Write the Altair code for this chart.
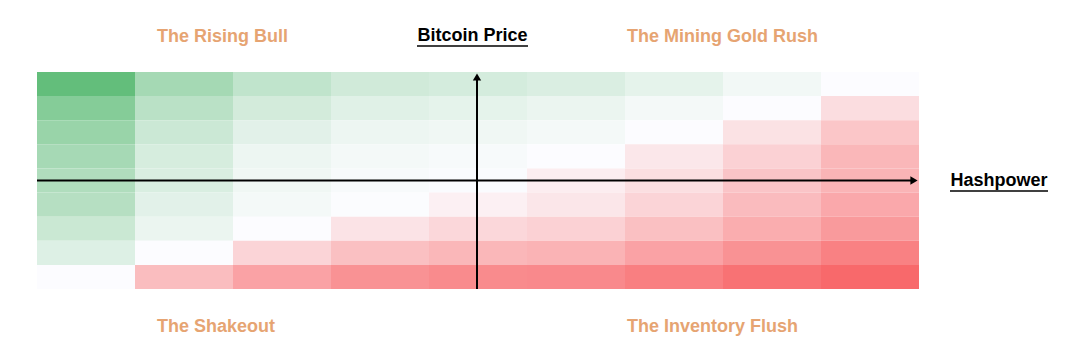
import altair as alt
import pandas as pd

# Hashpower columns (left -> right), Bitcoin price rows (top -> bottom)
cols = ["h1", "h2", "h3", "h4", "h5", "h6", "h7", "h8", "h9"]
rows = ["p1", "p2", "p3", "p4", "p5", "p6", "p7", "p8", "p9"]

# score: negative = green (good), positive = red (bad)
row_p1 = [-1.00, -0.57, -0.39, -0.29, -0.26, -0.22, -0.15, -0.065, 0.00]
row_p2 = [-0.78, -0.43, -0.27, -0.18, -0.15, -0.11, -0.05, 0.00, 0.21]
row_p3 = [-0.65, -0.32, -0.17, -0.10, -0.08, -0.05, 0.00, 0.18, 0.37]
row_p4 = [-0.56, -0.25, -0.10, -0.05, -0.03, 0.00, 0.14, 0.29, 0.47]
row_p5 = [-0.50, -0.23, -0.08, -0.03, -0.01, 0.10, 0.20, 0.38, 0.49]
row_p6 = [-0.46, -0.17, -0.05, -0.005, 0.08, 0.15, 0.27, 0.44, 0.57]
row_p7 = [-0.33, -0.11, 0.00, 0.17, 0.25, 0.29, 0.41, 0.54, 0.67]
row_p8 = [-0.20, 0.00, 0.27, 0.41, 0.47, 0.50, 0.61, 0.72, 0.84]
row_p9 = [0.00, 0.43, 0.61, 0.72, 0.77, 0.78, 0.85, 0.94, 1.00]

matrix = [row_p1, row_p2, row_p3, row_p4, row_p5, row_p6, row_p7, row_p8, row_p9]

records = []
for r, vals in zip(rows, matrix):
    for c, v in zip(cols, vals):
        records.append({"col": c, "row": r, "score": v})
df = pd.DataFrame(records)

W, H = 882, 217
FONT = "Liberation Sans"
ORANGE = "#e6a472"

heat = alt.Chart(df).mark_rect(stroke=None).encode(
    x=alt.X("col:O", sort=cols, axis=None, scale=alt.Scale(paddingInner=0, paddingOuter=0)),
    y=alt.Y("row:O", sort=rows, axis=None, scale=alt.Scale(paddingInner=0, paddingOuter=0)),
    color=alt.Color(
        "score:Q",
        scale=alt.Scale(domain=[-1, 0, 1], range=["#63be7b", "#fcfcff", "#f8696b"], interpolate="rgb"),
        legend=None,
    ),
)

base = alt.Chart(pd.DataFrame({"k": [0]}))

hline = base.mark_rule(color="black", strokeWidth=2).encode(
    x=alt.value(0), x2=alt.value(W - 5), y=alt.value(H / 2)
)
vline = base.mark_rule(color="black", strokeWidth=2).encode(
    x=alt.value(W / 2 - 1), y=alt.value(H), y2=alt.value(5)
)
harrow = base.mark_point(shape="triangle-right", filled=True, color="black", size=70, opacity=1).encode(
    x=alt.value(W - 5), y=alt.value(H / 2)
)
varrow = base.mark_point(shape="triangle-up", filled=True, color="black", size=70, opacity=1).encode(
    x=alt.value(W / 2 - 1), y=alt.value(5)
)

def label(text, x, y, color, align="left"):
    return base.mark_text(
        text=text, font=FONT, fontSize=18, fontWeight="bold", color=color,
        align=align, baseline="middle",
    ).encode(x=alt.value(x), y=alt.value(y))

t1 = label("The Rising Bull", 120, -35, ORANGE)
t2 = label("The Mining Gold Rush", 590, -35, ORANGE)
t3 = label("The Shakeout", 120, 255, ORANGE)
t4 = label("The Inventory Flush", 590, 255, ORANGE)
t5 = label("Bitcoin Price", 435.5, -36, "black", align="center")
t6 = label("Hashpower", 962, 109, "black", align="center")

u5 = base.mark_rule(color="black", strokeWidth=1.5).encode(
    x=alt.value(380), x2=alt.value(491), y=alt.value(-26)
)
u6 = base.mark_rule(color="black", strokeWidth=1.5).encode(
    x=alt.value(913), x2=alt.value(1011), y=alt.value(119)
)

chart = alt.layer(
    heat, hline, vline, harrow, varrow, t1, t2, t3, t4, t5, t6, u5, u6
).properties(
    width=W, height=H,
    autosize=alt.AutoSizeParams(type="none"),
    padding={"left": 29, "top": 64, "right": 140, "bottom": 60},
).configure_view(stroke=None)

chart.save("out.html", embed_options={"renderer": "svg", "actions": False})
